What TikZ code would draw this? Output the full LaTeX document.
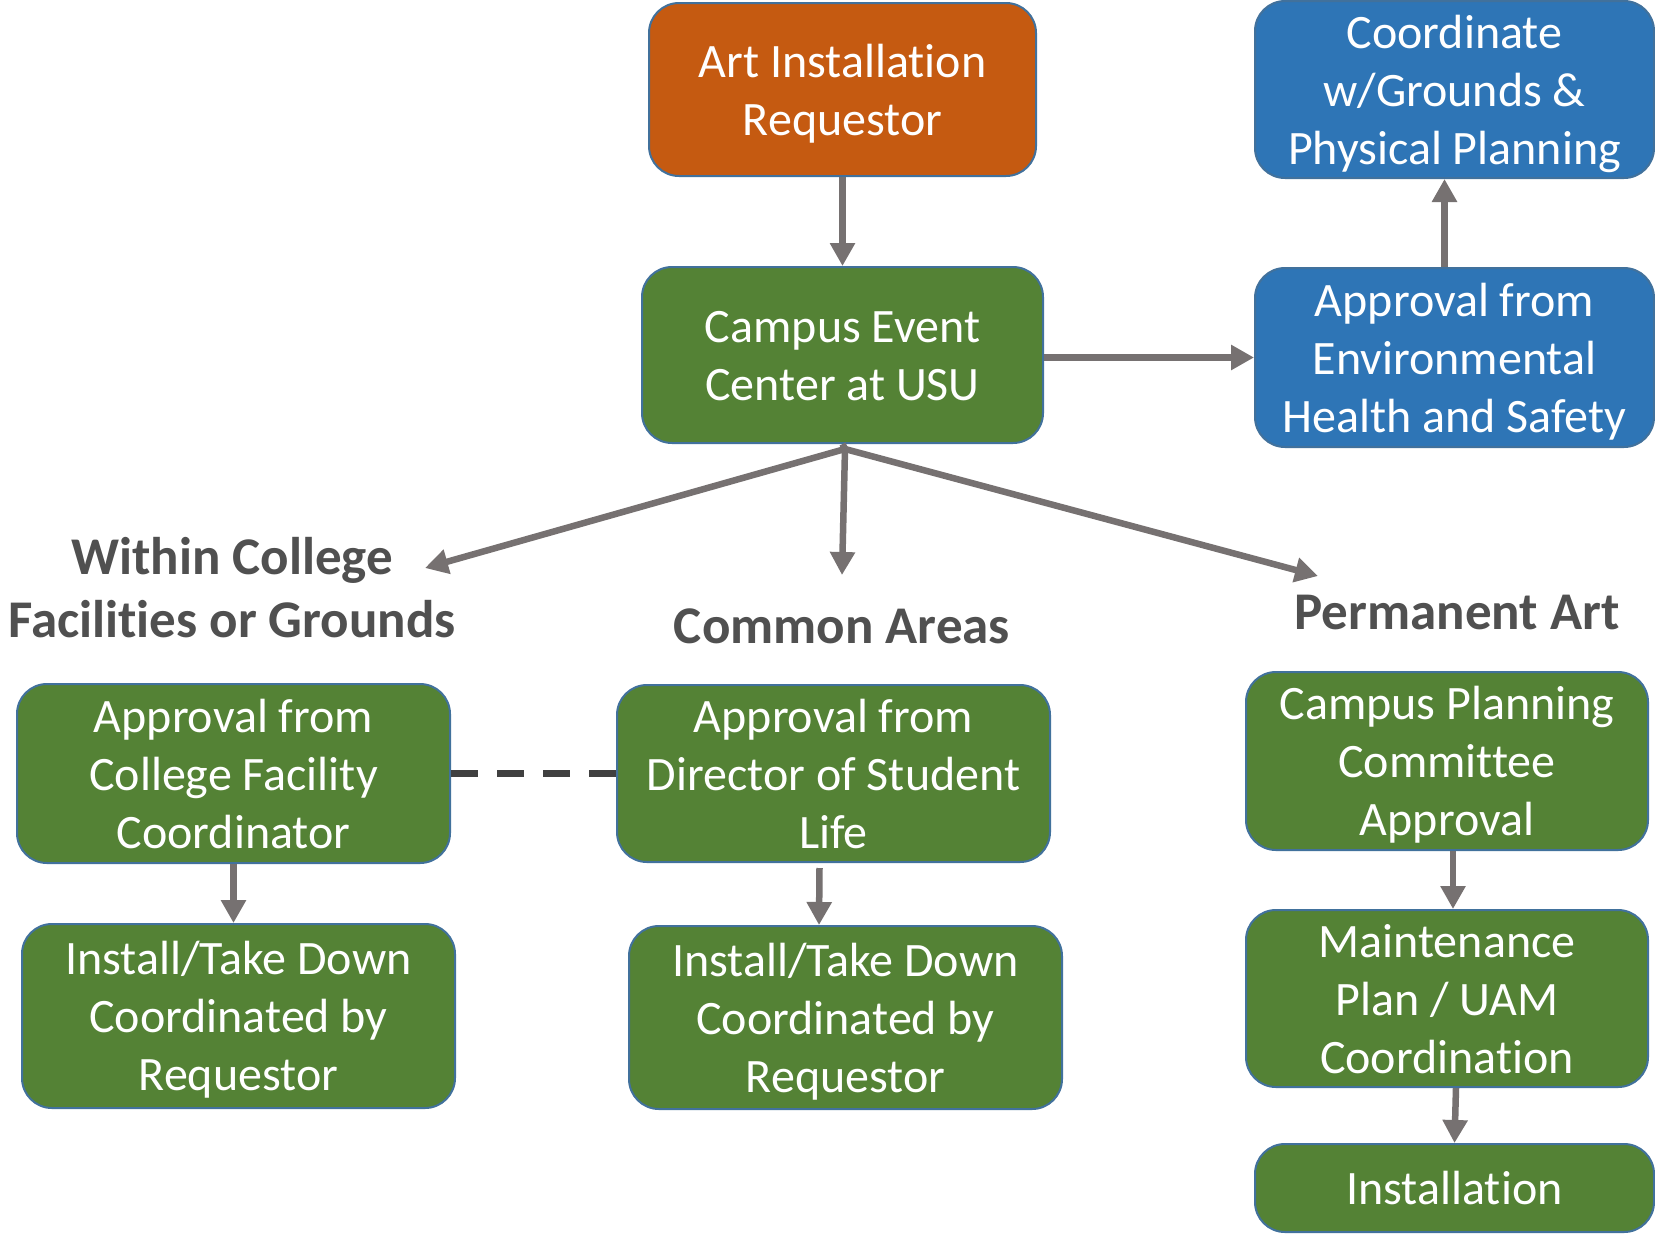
\documentclass[tikz,border=0pt]{standalone}
\usepackage{fontspec}
\setmainfont{Carlito}[Ligatures=NoCommon]
\usetikzlibrary{arrows.meta}
\definecolor{orangeC}{HTML}{C55A11}
\definecolor{greenC}{HTML}{548235}
\definecolor{blueC}{HTML}{2E75B6}
\definecolor{borderC}{HTML}{41719C}
\definecolor{arrowC}{HTML}{767171}
\definecolor{headC}{HTML}{505050}
\definecolor{dashC}{HTML}{404040}
\newcommand\bt[1]{\raisebox{-5pt}[\height][\depth]{\begin{tabular}{@{}c@{}}#1\end{tabular}}}
\tikzset{
  box/.style={draw=borderC, line width=2pt, rounded corners=30pt, text=white,
    inner sep=0pt, font=\fontsize{48}{58}\selectfont},
  gbox/.style={box, fill=greenC},
  bbox/.style={box, fill=blueC},
  head/.style={text=headC, align=center, inner sep=0pt,
    font=\fontsize{53}{63}\selectfont\bfseries},
  arr/.style={draw=arrowC, line width=6.5pt,
    -{Triangle[length=23pt,width=24pt]}},
  link/.style={draw=dashC, line width=7pt, dash pattern=on 27pt off 19pt}
}
\begin{document}
\begin{tikzpicture}[x=1pt,y=-1pt]
\useasboundingbox (0,0) rectangle (1655,1235);
\fill[white] (0,0) rectangle (1655,1235);

\node[box, fill=orangeC, minimum width=387pt, minimum height=173pt] (req) at (842.5,89.5) {\bt{Art Installation\\Requestor}};
\node[gbox, minimum width=401pt, minimum height=176pt] (cec) at (842.5,355) {\bt{Campus Event\\Center at USU}};
\node[bbox, minimum width=399pt, minimum height=177pt] (coord) at (1454.5,89.5) {\bt{Coordinate\\w/Grounds \&\\Physical Planning}};
\node[bbox, minimum width=399pt, minimum height=179pt] (ehs) at (1454.5,357.5) {\bt{Approval from\\Environmental\\Health and Safety}};

\node[gbox, minimum width=433pt, minimum height=179pt] (appc) at (233.5,773.5) {\bt{Approval from\\College Facility\\Coordinator}};
\node[gbox, minimum width=433pt, minimum height=177pt] (appd) at (833.5,773.5) {\bt{Approval from\\Director of Student\\Life}};
\node[gbox, minimum width=433pt, minimum height=184pt] (instl) at (238.5,1016) {\bt{Install/Take Down\\Coordinated by\\Requestor}};
\node[gbox, minimum width=433pt, minimum height=183pt] (instm) at (845.5,1017.5) {\bt{Install/Take Down\\Coordinated by\\Requestor}};
\node[gbox, minimum width=402pt, minimum height=178pt] (cpc) at (1447,761) {\bt{Campus Planning\\Committee\\Approval}};
\node[gbox, minimum width=402pt, minimum height=177pt] (maint) at (1447,998.5) {\bt{Maintenance\\Plan / UAM\\Coordination}};
\node[gbox, minimum width=399pt, minimum height=88pt] (inst) at (1454.5,1188) {\bt{Installation}};

\node[head] (hwithin) at (232,588) {Within College\\Facilities or Grounds};
\node[head] (hcommon) at (842,626) {Common Areas};
\node[head] (hperm) at (1457,612) {Permanent Art};

\coordinate (apex) at (845,449);
\coordinate (tipL) at (425,568);
\coordinate (tipM) at (842,575);
\coordinate (tipR) at (1318,576);

\draw[arr] (req.south) -- (cec.north);
\draw[arr] (cec.east |- ehs.west) -- (ehs.west);
\draw[arr] ([xshift=-10pt]ehs.north) -- ([xshift=-10pt]coord.south);
\draw[arrowC, line width=6.5pt] (cec.south) -- (apex);
\draw[arr] (apex) -- (tipL);
\draw[arr] (apex) -- (tipM);
\draw[arr] (apex) -- (tipR);
\draw[link] (appc.east) -- (appd.west);
\draw[arr] (appc.south) -- (instl.north -| appc.south);
\draw[arr] ([xshift=-14pt,yshift=-5pt]appd.south) -- ([xshift=-26.5pt]instm.north);
\draw[arr] ([xshift=6pt]cpc.south) -- ([xshift=-1.5pt]maint.north -| inst.north);
\draw[arr] ([xshift=9pt]maint.south) -- (inst.north);
\end{tikzpicture}
\end{document}
